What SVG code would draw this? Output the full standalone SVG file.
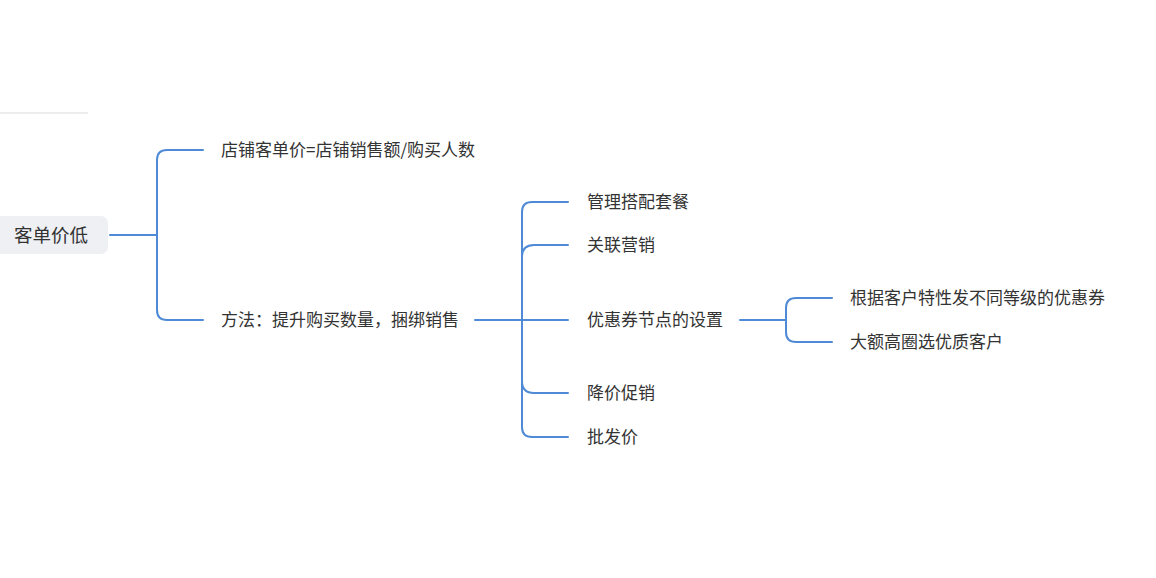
<svg xmlns="http://www.w3.org/2000/svg" width="1156" height="578" viewBox="0 0 1156 578">
<style>
.t{font-family:"Noto Sans CJK SC","Noto Sans",sans-serif;font-size:17px;fill:#333;}
.r{font-family:"Noto Sans CJK SC","Noto Sans",sans-serif;font-size:18.5px;fill:#333;}
.c{fill:none;stroke:#4f8ad6;stroke-width:2;stroke-linecap:round;}
</style>
<rect width="1156" height="578" fill="#fff"/>
<line x1="0" y1="113" x2="88" y2="113" stroke="#ececec" stroke-width="2"/>
<g id="connectors">
<path class="c" d="M110,235 H157"/>
<path class="c" d="M203,150 H167 Q157,150 157,160 V310 Q157,320 167,320 H203"/>
<path class="c" d="M475,320 H568"/>
<path class="c" d="M568,202 H532 Q522,202 522,212 V427 Q522,437 532,437 H568"/>
<path class="c" d="M522,257 Q522,245 534,245 H568"/>
<path class="c" d="M522,381 Q522,393 534,393 H568"/>
<path class="c" d="M740,320 H786"/>
<path class="c" d="M832,298 H796 Q786,298 786,308 V332 Q786,342 796,342 H832"/>
</g>
<g id="root">
<rect x="-8" y="216" width="116" height="38" rx="7" fill="#eef0f3"/>
<text class="r" x="14" y="241.5">客单价低</text>
</g>
<g id="n1"><text class="t" x="221" y="156">店铺客单价=店铺销售额/购买人数</text></g>
<g id="n2"><text class="t" x="221" y="326">方法：提升购买数量，捆绑销售</text></g>
<g id="n3"><text class="t" x="587" y="208">管理搭配套餐</text></g>
<g id="n4"><text class="t" x="587" y="251">关联营销</text></g>
<g id="n5"><text class="t" x="587" y="326">优惠券节点的设置</text></g>
<g id="n6"><text class="t" x="587" y="399">降价促销</text></g>
<g id="n7"><text class="t" x="587" y="443">批发价</text></g>
<g id="n8"><text class="t" x="850" y="304">根据客户特性发不同等级的优惠券</text></g>
<g id="n9"><text class="t" x="850" y="348">大额高圈选优质客户</text></g>
</svg>
